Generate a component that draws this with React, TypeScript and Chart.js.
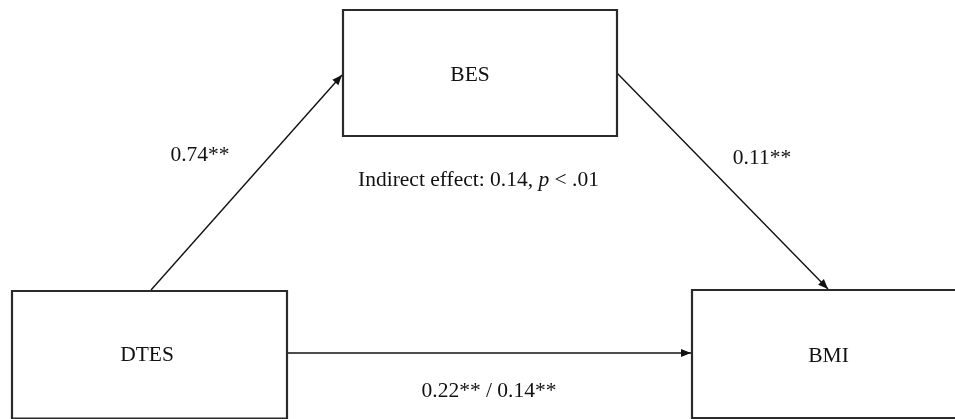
import React, { useEffect, useRef } from "react";
import { Chart, registerables } from "chart.js";

Chart.register(...registerables);

// Nodes (boxes) of the mediation diagram
const nodeLabels = ["BES", "DTES", "BMI"];
const nodeLeft = [343, 12, 692];
const nodeRight = [617, 287, 962];
const nodeTop = [10, 291, 290];
const nodeBottom = [136, 418.5, 418];
const nodeTextX = [470, 147, 828.5];
const nodeTextY = [80.7, 361, 361.7];

// Paths (arrows): start and end points
const pathFromX = [151, 617, 287];
const pathFromY = [290, 73, 353];
const pathToX = [342, 828, 691];
const pathToY = [75, 289, 353];

// Coefficient labels
const coefLabels = ["0.74**", "0.11**", "0.22** / 0.14**"];
const coefX = [200, 762, 489];
const coefY = [160.7, 164, 397];

// Indirect effect annotation
const indirectParts = ["Indirect effect: 0.14, ", "p", " < .01"];
const indirectItalic = [false, true, false];
const indirectX = 478.5;
const indirectY = 186;

const FONT = '"Liberation Serif", "Times New Roman", serif';
const SIZE = 21.5;

export default function App() {
  const ref = useRef<HTMLCanvasElement | null>(null);

  useEffect(() => {
    if (!ref.current) return;
    const boxDatasets = nodeLabels.map((lab, i) => ({
      label: lab,
      data: [
        { x: nodeLeft[i], y: nodeTop[i] },
        { x: nodeRight[i], y: nodeTop[i] },
        { x: nodeRight[i], y: nodeBottom[i] },
        { x: nodeLeft[i], y: nodeBottom[i] },
        { x: nodeLeft[i], y: nodeTop[i] },
      ],
      showLine: true,
      borderColor: "#2a2a2a",
      borderWidth: 2.2,
      borderJoinStyle: "miter",
      borderCapStyle: "square",
      pointRadius: 0,
      fill: false,
      tension: 0,
      clip: false as any,
    }));
    const pathDatasets = pathFromX.map((_, i) => ({
      label: "path" + i,
      data: [
        { x: pathFromX[i], y: pathFromY[i] },
        { x: pathToX[i], y: pathToY[i] },
      ],
      showLine: true,
      borderColor: "#111",
      borderWidth: 1.4,
      pointRadius: 0,
      fill: false,
      tension: 0,
      clip: false as any,
    }));

    const overlay = {
      id: "overlay",
      afterDatasetsDraw(chart: any) {
        const { ctx, scales } = chart;
        const sx = (v: number) => scales.x.getPixelForValue(v);
        const sy = (v: number) => scales.y.getPixelForValue(v);
        ctx.save();
        // arrowheads
        ctx.fillStyle = "#111";
        for (let i = 0; i < pathToX.length; i++) {
          const x1 = sx(pathFromX[i]), y1 = sy(pathFromY[i]);
          const x2 = sx(pathToX[i]), y2 = sy(pathToY[i]);
          const a = Math.atan2(y2 - y1, x2 - x1);
          const len = 10, hw = 4;
          ctx.beginPath();
          ctx.moveTo(x2, y2);
          ctx.lineTo(x2 - len * Math.cos(a) + hw * Math.sin(a), y2 - len * Math.sin(a) - hw * Math.cos(a));
          ctx.lineTo(x2 - len * Math.cos(a) - hw * Math.sin(a), y2 - len * Math.sin(a) + hw * Math.cos(a));
          ctx.closePath();
          ctx.fill();
        }
        // texts
        ctx.fillStyle = "#111";
        ctx.textBaseline = "alphabetic";
        ctx.textAlign = "center";
        ctx.font = `${SIZE}px ${FONT}`;
        nodeLabels.forEach((t, i) => ctx.fillText(t, sx(nodeTextX[i]), sy(nodeTextY[i])));
        coefLabels.forEach((t, i) => ctx.fillText(t, sx(coefX[i]), sy(coefY[i])));
        // indirect effect with italic p
        ctx.textAlign = "left";
        const fonts = indirectItalic.map((it) => `${it ? "italic " : ""}${SIZE}px ${FONT}`);
        const widths = indirectParts.map((p, i) => {
          ctx.font = fonts[i];
          return ctx.measureText(p).width;
        });
        const total = widths.reduce((a, b) => a + b, 0);
        let x = sx(indirectX) - total / 2;
        indirectParts.forEach((p, i) => {
          ctx.font = fonts[i];
          ctx.fillText(p, x, sy(indirectY));
          x += widths[i];
        });
        ctx.restore();
      },
    };

    const chart = new Chart(ref.current, {
      type: "scatter",
      data: { datasets: [...boxDatasets, ...pathDatasets] as any },
      options: {
        animation: false,
        responsive: false,
        maintainAspectRatio: false,
        layout: { padding: 0 },
        plugins: { legend: { display: false }, tooltip: { enabled: false } },
        events: [],
        scales: {
          x: { type: "linear", min: 0, max: 955, display: false },
          y: { type: "linear", min: 0, max: 419, reverse: true, display: false },
        },
      },
      plugins: [overlay],
    });
    return () => chart.destroy();
  }, []);

  return (
    <div style={{ position: "absolute", left: 0, top: 0, width: 955, height: 419, background: "#fff" }}>
      <canvas ref={ref} width={955} height={419} style={{ display: "block", width: 955, height: 419 }} />
    </div>
  );
}
